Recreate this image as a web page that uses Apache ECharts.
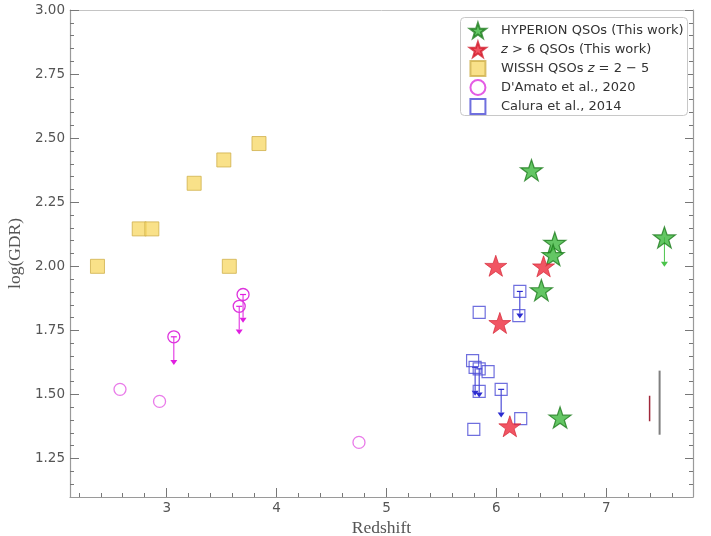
<!DOCTYPE html>
<html><head><meta charset="utf-8">
<script src="https://cdn.jsdelivr.net/npm/echarts@6/dist/echarts.min.js"></script>
<style>html,body{margin:0;padding:0;background:#fff}#c{width:711px;height:536px}</style>
</head><body><div id="c"></div>
<script>
// ---- data ----
const xMajorTicks = [3, 4, 5, 6, 7];
const xMinorTicks = [2.2,2.4,2.6,2.8,3.2,3.4,3.6,3.8,4.2,4.4,4.6,4.8,5.2,5.4,5.6,5.8,6.2,6.4,6.6,6.8,7.2,7.4,7.6];
const yMajorTicks = [1.25, 1.5, 1.75, 2.0, 2.25, 2.5, 2.75, 3.0];
const yMinorTicks = [1.15,1.2,1.3,1.35,1.4,1.45,1.55,1.6,1.65,1.7,1.8,1.85,1.9,1.95,2.05,2.1,2.15,2.2,2.3,2.35,2.4,2.45,2.55,2.6,2.65,2.7,2.8,2.85,2.9,2.95];

const hyperionZ   = [6.32, 6.532, 6.517, 6.41, 6.58, 7.53];
const hyperionGDR = [2.375, 2.092, 2.044, 1.907, 1.41, 2.113];
const hyperionLimLow = [null, null, null, null, null, 1.998];

const z6Z   = [5.995, 6.43, 6.032, 6.123];
const z6GDR = [2.002, 2.0, 1.779, 1.376];

const wisshZ   = [2.37, 2.75, 2.865, 3.25, 3.52, 3.84, 3.57];
const wisshGDR = [2.0, 2.146, 2.146, 2.324, 2.415, 2.479, 2.0];

const damatoZ   = [2.575, 2.935, 3.065, 3.66, 3.695, 4.75];
const damatoGDR = [1.52, 1.473, 1.725, 1.844, 1.89, 1.313];
const damatoLimLow = [null, null, 1.615, 1.734, 1.78, null];

const caluraZ   = [6.214, 6.205, 5.844, 5.784, 5.807, 5.844, 5.925, 5.844, 6.044, 6.222, 5.795];
const caluraGDR = [1.902, 1.808, 1.82, 1.632, 1.606, 1.60, 1.589, 1.512, 1.52, 1.406, 1.364];
const caluraLimLow = [1.796, null, null, null, 1.495, 1.488, null, null, 1.41, null, null];

// representative error bars
const errGreyZ = 7.486, errGreyLow = 1.343, errGreyHigh = 1.593;
const errRedZ = 7.395, errRedLow = 1.396, errRedHigh = 1.495;

const legendNames = ['HYPERION QSOs (This work)', 'z6', 'wissh', "D'Amato et al., 2020", 'Calura et al., 2014'];

// ---- chart ----
const STAR = 'path://M50,0 L61.8,35.1 L98.1,35.1 L68.8,56.8 L79.4,91 L50,70 L20.6,91 L31.2,56.8 L1.9,35.1 L38.2,35.1 Z';
const SQUARE = 'path://M0,0 L10,0 L10,10 L0,10 Z';
const pts = (xs, ys) => xs.map((x, i) => [x, ys[i]]);
const lims = (xs, ys, lo) => xs.map((x, i) => lo[i] == null ? null : [x, ys[i], lo[i]]).filter(d => d);

function limitSeries(name, data, color, capW, z) {
  return {
    name: name + '_lim', type: 'custom', z: z, silent: true,
    xAxisIndex: 0, yAxisIndex: 0,
    data: data,
    renderItem: function (params, api) {
      const p1 = api.coord([api.value(0), api.value(1)]);
      const p2 = api.coord([api.value(0), api.value(2)]);
      const h = 5, w = 3.5;
      return {
        type: 'group', children: [
          { type: 'line', shape: { x1: p1[0], y1: p1[1], x2: p2[0], y2: p2[1] - h }, style: { stroke: color, lineWidth: 1 } },
          { type: 'line', shape: { x1: p1[0] - capW, y1: p1[1], x2: p1[0] + capW, y2: p1[1] }, style: { stroke: color, lineWidth: 1.2 } },
          { type: 'polygon', shape: { points: [[p2[0] - w, p2[1] - h], [p2[0] + w, p2[1] - h], [p2[0], p2[1]]] }, style: { fill: color } }
        ]
      };
    }
  };
}

const chart = echarts.init(document.getElementById('c'), null, { renderer: 'canvas' });
const axisCol = '#9a9a9a', tickCol = '#777', labCol = '#555';
const grid = { left: 70, right: 18, top: 10, bottom: 39, outerBoundsMode: 'none', containLabel: false };
const lblFont = { fontFamily: 'DejaVu Sans', fontSize: 13.5, color: labCol };

const xBase = { type: 'value', min: 2.12, max: 7.79, splitLine: { show: false } };
const yBase = { type: 'value', min: 1.1, max: 3.0, splitLine: { show: false } };

const option = {
  animation: false,
  backgroundColor: '#fff',
  grid: grid,
  graphic: [{
    type: 'rect', left: 460, top: 17, z: 9, silent: true,
    shape: { width: 227, height: 98, r: 4 },
    style: { fill: '#fff', stroke: '#c8c8c8', lineWidth: 1 }
  }],
  xAxis: [
    Object.assign({}, xBase, {
      position: 'bottom',
      axisLine: { show: true, onZero: false, lineStyle: { color: axisCol, width: 1.2 } },
      axisTick: { show: true, inside: true, length: 9, customValues: xMajorTicks, lineStyle: { color: tickCol } },
      axisLabel: Object.assign({ customValues: xMajorTicks, margin: 4 }, lblFont),
      name: 'Redshift', nameLocation: 'middle', nameGap: 19,
      nameTextStyle: { fontFamily: 'Liberation Serif', fontSize: 17.5, color: labCol }
    }),
    Object.assign({}, xBase, {
      position: 'bottom',
      axisLine: { show: false, onZero: false },
      axisTick: { show: true, inside: true, length: 4, customValues: xMinorTicks, lineStyle: { color: tickCol } },
      axisLabel: { show: false }
    }),
    Object.assign({}, xBase, {
      position: 'top',
      axisLine: { show: true, onZero: false, lineStyle: { color: '#c4c4c4', width: 1 } },
      axisTick: { show: false }, axisLabel: { show: false }
    })
  ],
  yAxis: [
    Object.assign({}, yBase, {
      position: 'left',
      axisLine: { show: true, onZero: false, lineStyle: { color: axisCol, width: 1.2 } },
      axisTick: { show: true, inside: true, length: 9, customValues: yMajorTicks, lineStyle: { color: tickCol } },
      axisLabel: Object.assign({ customValues: yMajorTicks, margin: 5, formatter: v => v.toFixed(2) }, lblFont),
      name: 'log(GDR)', nameLocation: 'middle', nameGap: 35, nameRotate: 90,
      nameTextStyle: { fontFamily: 'Liberation Serif', fontSize: 17.5, color: labCol }
    }),
    Object.assign({}, yBase, {
      position: 'left',
      axisLine: { show: false, onZero: false },
      axisTick: { show: true, inside: true, length: 4, customValues: yMinorTicks, lineStyle: { color: tickCol } },
      axisLabel: { show: false }
    }),
    Object.assign({}, yBase, {
      position: 'right',
      axisLine: { show: true, onZero: false, lineStyle: { color: axisCol, width: 1.2 } },
      axisTick: { show: true, inside: true, length: 8, customValues: yMajorTicks, lineStyle: { color: tickCol } },
      axisLabel: { show: false }
    }),
    Object.assign({}, yBase, {
      position: 'right',
      axisLine: { show: false, onZero: false },
      axisTick: { show: true, inside: true, length: 4, customValues: yMinorTicks, lineStyle: { color: tickCol } },
      axisLabel: { show: false }
    })
  ],
  legend: {
    orient: 'vertical', left: 460, top: 17, z: 10,
    padding: [5, 10, 6, 9],
    itemWidth: 36, itemHeight: 15, itemGap: 2,
    selectedMode: false,
    textStyle: {
      fontFamily: 'DejaVu Sans', fontSize: 13, lineHeight: 14, color: '#333',
      rich: { i: { fontFamily: 'DejaVu Sans', fontStyle: 'italic', fontSize: 13, lineHeight: 14, color: '#333' },
              n: { fontFamily: 'DejaVu Sans', fontSize: 13, lineHeight: 14, color: '#333' } }
    },
    formatter: function (name) {
      if (name === 'z6') return '{i|z}{n| > 6 QSOs (This work)}';
      if (name === 'wissh') return '{n|WISSH QSOs }{i|z}{n| = 2 − 5}';
      return name;
    },
    data: [
      { name: legendNames[0], icon: STAR },
      { name: legendNames[1], icon: STAR },
      { name: legendNames[2], icon: SQUARE },
      { name: legendNames[3], icon: 'circle' },
      { name: legendNames[4], icon: SQUARE }
    ]
  },
  series: [
    { name: 'errGrey', type: 'line', xAxisIndex: 0, yAxisIndex: 0, symbol: 'none', silent: true,
      data: [[errGreyZ, errGreyLow], [errGreyZ, errGreyHigh]], lineStyle: { color: '#7f7f7f', width: 2 } },
    { name: 'errRed', type: 'line', xAxisIndex: 0, yAxisIndex: 0, symbol: 'none', silent: true,
      data: [[errRedZ, errRedLow], [errRedZ, errRedHigh]], lineStyle: { color: '#a0283a', width: 1.5 } },
    limitSeries('cal', lims(caluraZ, caluraGDR, caluraLimLow), '#2b2bd0', 3, 3),
    { name: legendNames[4], type: 'scatter', xAxisIndex: 0, yAxisIndex: 0, z: 3,
      symbol: 'rect', symbolSize: 12, data: pts(caluraZ, caluraGDR),
      itemStyle: { color: 'rgba(255,255,255,0)', borderColor: '#4b4bd6', borderWidth: 1.2 } },
    limitSeries('dam', lims(damatoZ, damatoGDR, damatoLimLow), '#e01ee0', 3, 3),
    { name: legendNames[3], type: 'scatter', xAxisIndex: 0, yAxisIndex: 0, z: 3,
      symbol: 'circle', symbolSize: 12,
      data: damatoZ.map((x, i) => ({ value: [x, damatoGDR[i]],
        itemStyle: { opacity: damatoLimLow[i] == null ? 0.65 : 1 } })),
      itemStyle: { color: 'rgba(255,255,255,0)', borderColor: '#dd33dd', borderWidth: 1.3 } },
    { name: legendNames[2], type: 'scatter', xAxisIndex: 0, yAxisIndex: 0, z: 4,
      symbol: 'rect', symbolSize: 14, data: pts(wisshZ, wisshGDR),
      itemStyle: { color: '#f8d96c', borderColor: '#cfb04c', borderWidth: 1 } },
    limitSeries('hyp', lims(hyperionZ, hyperionGDR, hyperionLimLow), '#4cc44c', 0, 5),
    { name: legendNames[0], type: 'scatter', xAxisIndex: 0, yAxisIndex: 0, z: 6,
      symbol: STAR, symbolSize: [22, 21], data: pts(hyperionZ, hyperionGDR),
      itemStyle: { color: '#3db83d', borderColor: '#1f7d1f', borderWidth: 1.2 } },
    { name: legendNames[1], type: 'scatter', xAxisIndex: 0, yAxisIndex: 0, z: 7,
      symbol: STAR, symbolSize: [22, 21], data: pts(z6Z, z6GDR),
      itemStyle: { color: '#ee2a3c', borderColor: '#d21c2c', borderWidth: 0.8 } }
  ]
};
chart.setOption(option);
</script>
</body></html>
